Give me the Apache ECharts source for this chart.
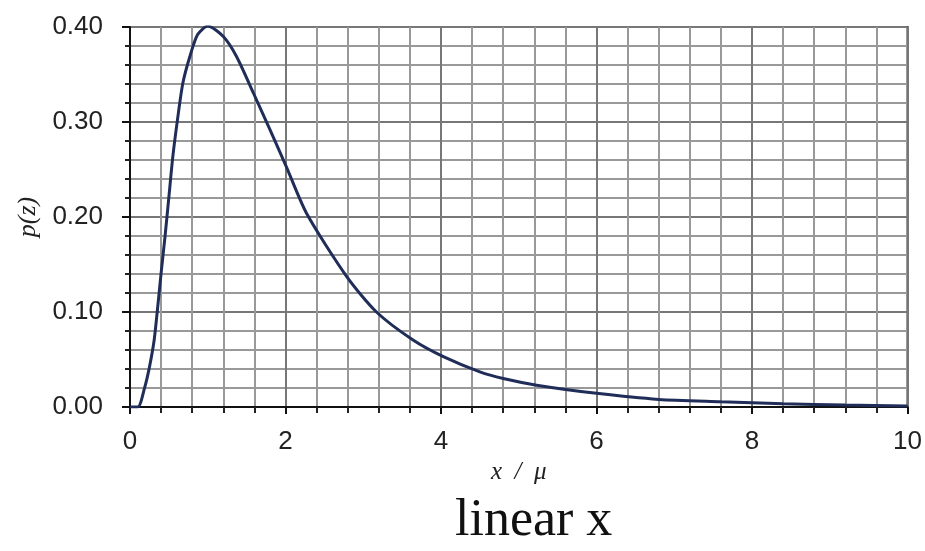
<!DOCTYPE html>
<html>
<head>
<meta charset="utf-8">
<script src="https://cdn.jsdelivr.net/npm/echarts@6/dist/echarts.min.js"></script>
<style>
  html, body { margin: 0; padding: 0; background: #fff; }
  #chart { width: 925px; height: 551px; }
</style>
</head>
<body>
<div id="chart"></div>
<script>
// values
const xValues = [0, 0.10, 0.19, 0.25, 0.31, 0.35, 0.40, 0.45, 0.50, 0.55, 0.61, 0.68, 0.77, 0.87, 1.0, 1.2, 1.37, 1.59, 1.80, 2.01, 2.27, 2.79, 3.17, 3.64, 4.03, 4.5, 4.8, 5.23, 6.0, 6.8, 7.6, 8.4, 9.2, 10];
const pValues = [0, 0, 0.021, 0.042, 0.07, 0.10, 0.141, 0.179, 0.221, 0.263, 0.302, 0.341, 0.369, 0.392, 0.401, 0.39, 0.369, 0.330, 0.292, 0.253, 0.204, 0.137, 0.10, 0.0705, 0.053, 0.037, 0.030, 0.023, 0.0144, 0.008, 0.0056, 0.0035, 0.002, 0.001];
const xTicks = [0, 2, 4, 6, 8, 10];
const yTicks = ['0.00', '0.10', '0.20', '0.30', '0.40'];

const chart = echarts.init(document.getElementById('chart'));
const labelFont = '"Liberation Sans Narrow", "Liberation Sans", sans-serif';

const option = {
  animation: false,
  grid: {
    left: 130, right: 17, top: 27, bottom: 144,
    show: true, borderColor: '#222', borderWidth: 2
  },
  xAxis: {
    type: 'value',
    min: 0, max: 10, interval: 2,
    name: 'x  /  μ',
    nameLocation: 'middle',
    nameGap: 46,
    nameTextStyle: { fontFamily: 'Liberation Serif', fontStyle: 'italic', fontSize: 25, color: '#222' },
    axisLine: { lineStyle: { color: '#111', width: 2 } },
    axisTick: { show: true, inside: false, length: 7, lineStyle: { color: '#111', width: 2 } },
    minorTick: { show: true, splitNumber: 5, length: 6, lineStyle: { color: '#222', width: 2 } },
    axisLabel: {
      margin: 22, fontSize: 26, color: '#222', fontFamily: labelFont,
      formatter: v => xTicks.includes(v) ? String(v) : ''
    },
    splitLine: { show: true, lineStyle: { color: '#777', width: 2 } },
    minorSplitLine: { show: true, lineStyle: { color: '#999', width: 2 } }
  },
  yAxis: {
    type: 'value',
    min: 0, max: 0.4, interval: 0.1,
    name: 'p(z)',
    nameLocation: 'middle',
    nameRotate: 90,
    nameGap: 86,
    nameTextStyle: { fontFamily: 'Liberation Serif', fontStyle: 'italic', fontSize: 26, color: '#222' },
    axisLine: { show: true, lineStyle: { color: '#111', width: 2 } },
    axisTick: { show: true, inside: false, length: 8, lineStyle: { color: '#111', width: 2 } },
    minorTick: { show: true, splitNumber: 5, length: 5, lineStyle: { color: '#222', width: 2 } },
    axisLabel: {
      margin: 27, fontSize: 26, color: '#222', fontFamily: labelFont,
      formatter: v => yTicks[Math.round(v * 10)] || ''
    },
    splitLine: { show: true, lineStyle: { color: '#777', width: 2 } },
    minorSplitLine: { show: true, lineStyle: { color: '#999', width: 2 } }
  },
  graphic: [{
    type: 'text',
    left: 455, top: 495,
    style: { text: 'linear x', font: '52px "Liberation Serif", serif', fill: '#111' }
  }],
  series: [{
    type: 'line',
    data: xValues.map((x, i) => [x, pValues[i]]),
    smooth: 0.25,
    showSymbol: false,
    lineStyle: { color: '#1f2d58', width: 3 }
  }]
};
chart.setOption(option);
</script>
</body>
</html>
